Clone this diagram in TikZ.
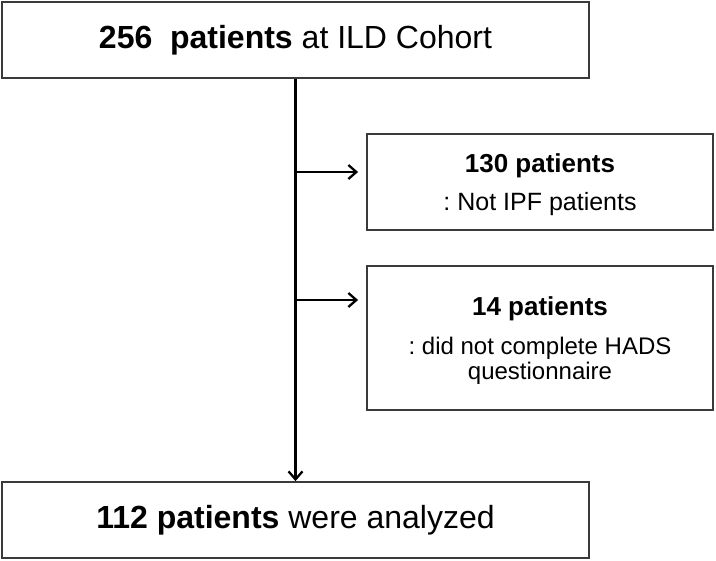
\documentclass[tikz,border=0pt]{standalone}
\usepackage{fontspec}
\setmainfont{Liberation Sans}
\usetikzlibrary{arrows.meta}
\definecolor{boxgray}{HTML}{3A3A3A}
\frenchspacing
\begin{document}
\begin{tikzpicture}[x=1pt,y=-1pt,
  box/.style={draw=boxgray,line width=1.8pt,inner sep=0pt,anchor=center},
  bigtxt/.style={font=\fontsize{32}{38}\selectfont},
  smalltxt/.style={align=center,inner sep=0pt},
  conn/.style={line width=2.3pt,black},
  arr/.style={conn,-{Straight Barb[length=8pt,width=14pt,line width=2.3pt]}}]
\useasboundingbox (0,0) rectangle (716,561);
% boxes
\node[box,minimum width=587pt,minimum height=76pt] (top) at (295.5,40) {};
\node[bigtxt] (toptxt) at (295.5,40) {\textbf{256\ \ patients} at ILD Cohort};
\node[box,minimum width=587pt,minimum height=76pt] (bot) at (295.5,520) {};
\node[bigtxt] (bottxt) at (295.5,520) {\textbf{112 patients} were analyzed};
\node[box,minimum width=346pt,minimum height=96pt] (ex1) at (540,182) {};
\node[smalltxt,font=\fontsize{25}{30}\selectfont] (ex1txt) at (540,185)
  {\textbf{\fontsize{26}{30}\selectfont 130 patients}\\[8pt] : Not IPF patients};
\node[smalltxt,font=\fontsize{24}{25}\selectfont] (ex2txt) at (540,341)
  {\textbf{\fontsize{26}{30}\selectfont 14 patients}\\[14pt] : did not complete HADS\\ questionnaire};
\node[box,minimum width=346pt,minimum height=144pt] (ex2) at (540,338) {};
% connectors
\coordinate (b1) at (296,172);
\coordinate (b2) at (296,300);
\draw[arr] (top.south) -- (bot.north);
\draw[arr,shorten >=8pt] (b1) -- (b1 -| ex1.west);
\draw[arr,shorten >=8pt] (b2) -- (b2 -| ex2.west);
\end{tikzpicture}
\end{document}
